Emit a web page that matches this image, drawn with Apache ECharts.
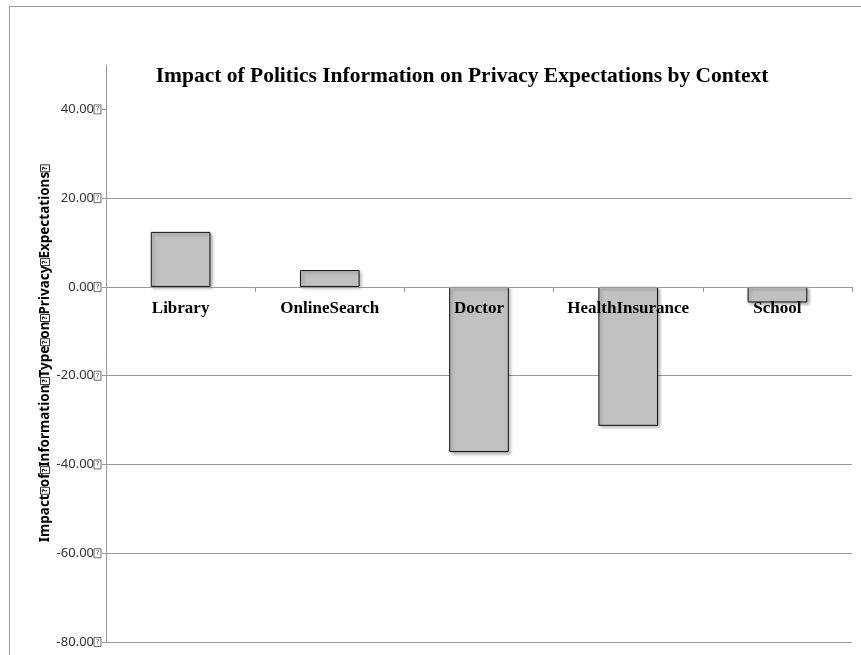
<!DOCTYPE html>
<html>
<head>
<meta charset="utf-8">
<script src="https://cdn.jsdelivr.net/npm/echarts@6/dist/echarts.min.js"></script>
<style>html,body{margin:0;padding:0;background:#fff;}#c{width:861px;height:655px;}</style>
</head>
<body>
<div id="c"></div>
<script>
var categories = ['Library', 'OnlineSearch', 'Doctor', 'HealthInsurance', 'School'];
var values = [12.4, 3.8, -37.2, -31.3, -3.5];
var tickValues = [-80, -60, -40, -20, 0, 20, 40];
var titleText = 'Impact of Politics Information on Privacy Expectations by Context';
var axisNameWords = ['Impact', 'of', 'Information', 'Type', 'on', 'Privacy', 'Expectations', ''];

var box = {fontSize: 7, lineHeight: 9, width: 5, height: 9, align: 'center', verticalAlign: 'middle', borderColor: '#444', borderWidth: 0.8, color: '#444', padding: [0, 1, 0, 1], fontFamily: 'DejaVu Sans'};
var boxBold = Object.assign({}, box, {color: '#000', borderColor: '#000'});

var chart = echarts.init(document.getElementById('c'));
chart.setOption({
  animation: false,
  backgroundColor: '#fff',
  title: {
    text: titleText,
    left: 457, top: 60, textAlign: 'center',
    textStyle: {fontFamily: 'Liberation Serif', fontWeight: 'bold', fontSize: 21.5, color: '#000'}
  },
  graphic: [{
    type: 'rect', silent: true,
    shape: {x: 9.5, y: 6.5, width: 900, height: 700},
    style: {fill: 'none', stroke: '#999', lineWidth: 1},
    z: -10
  }],
  grid: {left: 106, right: 9, top: 65, bottom: 13, containLabel: false, outerBoundsMode: 'none'},
  xAxis: [{
    type: 'category',
    data: categories,
    z: 5,
    axisLine: {onZero: true, lineStyle: {color: '#999', width: 1}},
    axisTick: {show: true, length: 5, lineStyle: {color: '#999'}},
    axisLabel: {show: false}
  }, {
    type: 'category',
    data: categories,
    position: 'bottom',
    offset: -355,
    z: 5,
    axisLine: {show: false, onZero: false},
    axisTick: {show: false},
    splitLine: {show: false},
    axisLabel: {margin: 13, fontFamily: 'Liberation Serif', fontWeight: 'bold', fontSize: 17, color: '#000', interval: 0}
  }],
  yAxis: {
    type: 'value',
    min: -80, max: 50, interval: 20,
    name: axisNameWords.join('{q|?}'),
    nameLocation: 'middle',
    nameGap: 54,
    nameMoveOverlap: false,
    nameRotate: 90,
    nameTextStyle: {fontFamily: 'Noto Sans', fontWeight: 'bold', fontSize: 13.5, color: '#000', rich: {q: boxBold}},
    axisLine: {show: true, lineStyle: {color: '#999', width: 1}},
    axisTick: {show: true, length: 4, lineStyle: {color: '#999'}, customValues: tickValues},
    splitLine: {show: true, showMaxLine: false, lineStyle: {color: '#999', width: 1}},
    axisLabel: {
      customValues: tickValues,
      margin: 5,
      fontFamily: 'Noto Sans', fontSize: 13, color: '#333',
      formatter: function (v) { return v.toFixed(2) + '{q|?}'; },
      rich: {q: box}
    }
  },
  series: [{
    type: 'bar',
    data: values,
    barWidth: '40%',
    itemStyle: {color: '#c0c0c0', borderColor: '#111', borderWidth: 1,
      shadowBlur: 3, shadowColor: 'rgba(0,0,0,0.3)', shadowOffsetX: 2, shadowOffsetY: 2}
  }]
});
</script>
</body>
</html>
